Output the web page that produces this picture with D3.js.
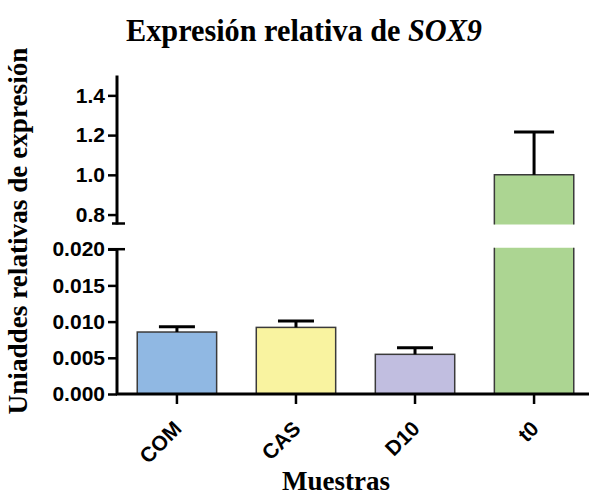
<!DOCTYPE html>
<html><head><meta charset="utf-8">
<script src="https://cdn.jsdelivr.net/npm/d3@7/dist/d3.min.js"></script>
<style>body{margin:0;background:#fff}svg{display:block}</style>
</head><body>
<svg id="c" width="589" height="497"></svg>
<script>
const categories = ["COM", "CAS", "D10", "t0"];
const means = [0.00856, 0.0092, 0.00548, 1.0];
const errors = [0.00074, 0.0009, 0.00092, 0.215];
const colors = ["#90b8e3", "#f9f3a0", "#c1bee0", "#acd592"];
const lowTicks = [0, 0.005, 0.010, 0.015, 0.020];
const highTicks = [0.8, 1.0, 1.2, 1.4];
const lowDomain = [0, 0.020];
const highDomain = [0.75, 1.5];
const lowClip = 0.0202;

const svg = d3.select("#c");
const axisX0 = 117, baseY = 394;
const x = d3.scaleBand().domain(categories).range([axisX0, 594]).paddingInner(0.333).paddingOuter(0.17);
const yLow = d3.scaleLinear().domain(lowDomain).range([baseY, 249.2]);
const yHigh = d3.scaleLinear().domain(highDomain).range([224.5, 75.5]);
const bw = x.bandwidth();
const outline = "#3a3a3a";

// bars
categories.forEach((c, i) => {
  const v = means[i], e = errors[i], x0 = x(c), cx = x0 + bw / 2;
  if (v <= lowClip) {
    svg.append("rect").attr("x", x0).attr("y", yLow(v)).attr("width", bw).attr("height", baseY - yLow(v))
      .attr("fill", colors[i]).attr("stroke", outline).attr("stroke-width", 1.5);
    svg.append("line").attr("x1", cx).attr("x2", cx).attr("y1", yLow(v)).attr("y2", yLow(v + e)).attr("stroke", "#000").attr("stroke-width", 3);
    svg.append("line").attr("x1", cx - 18).attr("x2", cx + 18).attr("y1", yLow(v + e)).attr("y2", yLow(v + e)).attr("stroke", "#000").attr("stroke-width", 3);
  } else {
    const t1 = yLow(lowClip);
    svg.append("rect").attr("x", x0).attr("y", t1).attr("width", bw).attr("height", baseY - t1).attr("fill", colors[i]);
    svg.append("path").attr("d", `M${x0},${t1}V${baseY}H${x0 + bw}V${t1}`).attr("fill", "none").attr("stroke", outline).attr("stroke-width", 1.5);
    const b2 = yHigh(highDomain[0]), t2 = yHigh(v);
    svg.append("rect").attr("x", x0).attr("y", t2).attr("width", bw).attr("height", b2 - t2).attr("fill", colors[i]);
    svg.append("path").attr("d", `M${x0},${b2}V${t2}H${x0 + bw}V${b2}`).attr("fill", "none").attr("stroke", outline).attr("stroke-width", 1.5);
    svg.append("line").attr("x1", cx).attr("x2", cx).attr("y1", t2).attr("y2", yHigh(v + e)).attr("stroke", "#000").attr("stroke-width", 3);
    svg.append("line").attr("x1", cx - 20).attr("x2", cx + 20).attr("y1", yHigh(v + e)).attr("y2", yHigh(v + e)).attr("stroke", "#000").attr("stroke-width", 3);
  }
});

// y axes
function styleAxis(g) {
  g.select(".domain").remove();
  g.selectAll(".tick line").attr("stroke", "#000").attr("stroke-width", 2.5);
  g.selectAll(".tick text").attr("font-family", "Liberation Sans, Arial, sans-serif").attr("font-weight", "bold").attr("font-size", 21).attr("fill", "#000");
}
const gLow = svg.append("g").attr("transform", `translate(${axisX0},0)`)
  .call(d3.axisLeft(yLow).tickValues(lowTicks).tickSize(9).tickPadding(3).tickFormat(d3.format(".3f")));
styleAxis(gLow);
const gHigh = svg.append("g").attr("transform", `translate(${axisX0},0)`)
  .call(d3.axisLeft(yHigh).tickValues(highTicks).tickSize(9).tickPadding(3).tickFormat(d3.format(".1f")));
styleAxis(gHigh);

// axis lines
svg.append("line").attr("x1", axisX0).attr("x2", axisX0).attr("y1", baseY).attr("y2", yLow(lowDomain[1])).attr("stroke", "#000").attr("stroke-width", 3);
svg.append("line").attr("x1", axisX0 - 9).attr("x2", axisX0 + 8).attr("y1", yLow(lowDomain[1])).attr("y2", yLow(lowDomain[1])).attr("stroke", "#000").attr("stroke-width", 2.5);
svg.append("line").attr("x1", axisX0).attr("x2", axisX0).attr("y1", yHigh(highDomain[0])).attr("y2", yHigh(highDomain[1])).attr("stroke", "#000").attr("stroke-width", 3);
svg.append("line").attr("x1", axisX0 - 5).attr("x2", axisX0 + 8).attr("y1", yHigh(highDomain[0]) - 1).attr("y2", yHigh(highDomain[0]) - 1).attr("stroke", "#000").attr("stroke-width", 2.5);

// x axis
const gx = svg.append("g").attr("transform", `translate(0,${baseY})`).call(d3.axisBottom(x).tickSize(10).tickPadding(6));
gx.select(".domain").remove();
gx.selectAll(".tick line").attr("stroke", "#000").attr("stroke-width", 2.5);
gx.selectAll(".tick text").attr("font-family", "Liberation Sans, Arial, sans-serif").attr("font-weight", "bold").attr("font-size", 21).attr("fill", "#000")
  .attr("text-anchor", "end").attr("x", 0).attr("y", 0).attr("dy", 0).attr("transform", "translate(6,36) rotate(-45)");
svg.append("line").attr("x1", axisX0 - 1).attr("x2", 589).attr("y1", baseY).attr("y2", baseY).attr("stroke", "#000").attr("stroke-width", 3);

// titles
function fit(t, w) {
  const l = t.node().getComputedTextLength();
  const fs = parseFloat(t.attr("font-size"));
  t.attr("font-size", fs * w / l);
}
const tcx = 304, tw = 356;
const title = svg.append("text").attr("x", 0).attr("y", 0).attr("text-anchor", "middle")
  .attr("font-family", "Liberation Serif, Times New Roman, serif").attr("font-weight", "bold").attr("font-size", 32).attr("fill", "#000");
title.append("tspan").text("Expresión relativa de ");
title.append("tspan").attr("font-style", "italic").text("SOX9");
const sx = tw / title.node().getComputedTextLength();
title.attr("transform", `translate(${tcx},41) scale(${sx},1)`);

const xl = svg.append("text").attr("x", 336).attr("y", 490).attr("text-anchor", "middle")
  .attr("font-family", "Liberation Serif, Times New Roman, serif").attr("font-weight", "bold").attr("font-size", 26).attr("fill", "#000").text("Muestras");
fit(xl, 108);

const yl = svg.append("text").attr("transform", "translate(27,231) rotate(-90)").attr("text-anchor", "middle")
  .attr("font-family", "Liberation Serif, Times New Roman, serif").attr("font-weight", "bold").attr("font-size", 26).attr("fill", "#000").text("Uniaddes relativas de expresión");
fit(yl, 367);
</script>
</body></html>
